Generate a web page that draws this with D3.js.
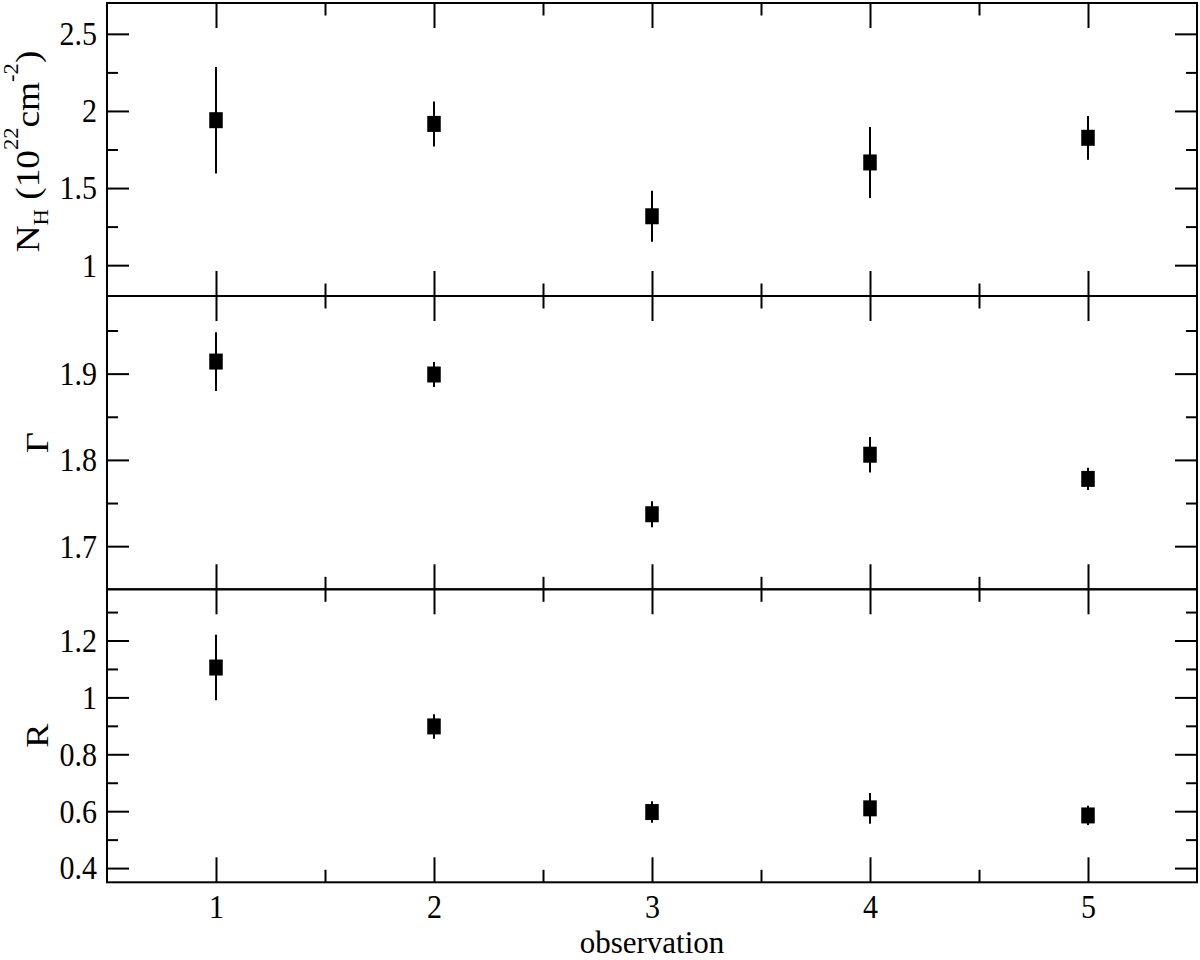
<!DOCTYPE html>
<html>
<head>
<meta charset="utf-8">
<script src="https://cdn.jsdelivr.net/npm/d3@7"></script>
<style>
body { margin: 0; background: #fff; }
svg text { font-family: "Liberation Serif", "Times New Roman", Times, Tinos, "DejaVu Serif", serif; fill: #000; }
</style>
</head>
<body>
<svg id="canvas"></svg>
<script>
// observation numbers
let observations = [1, 2, 3, 4, 5];
let xTicks = [1, 2, 3, 4, 5];
let xMinor = [1.5, 2.5, 3.5, 4.5];

// N_H (10^22 cm^-2)
let nhValues = [1.94, 1.916, 1.317, 1.666, 1.826];
let nhErrors = [0.345, 0.146, 0.165, 0.23, 0.142];
let nhTicks = [1, 1.5, 2, 2.5];
let nhMinor = [1.25, 1.75, 2.25];

// photon index
let gammaValues = [1.914, 1.899, 1.737, 1.806, 1.778];
let gammaErrors = [0.034, 0.0145, 0.015, 0.0205, 0.013];
let gammaTicks = [1.7, 1.8, 1.9];
let gammaMinor = [1.75, 1.85, 1.95];

// reflection
let rValues = [1.105, 0.898, 0.597, 0.61, 0.585];
let rErrors = [0.115, 0.043, 0.038, 0.054, 0.034];
let rTicks = [0.4, 0.6, 0.8, 1, 1.2];
let rMinor = [0.5, 0.7, 0.9, 1.1, 1.3];

let width = 1200;
let height = 960;
let left = 107;
let right = 1197;
let stretch = 1.13;
let serif = '"Liberation Serif", "Times New Roman", Times, Tinos, "DejaVu Serif", serif';

let canvas = d3.select('#canvas');
canvas.attr('width', width);
canvas.attr('height', height);

let panels = [
    {values: nhValues, errors: nhErrors, domain: [0.8, 2.7], ticks: nhTicks, minor: nhMinor, top: 3, bottom: 296},
    {values: gammaValues, errors: gammaErrors, domain: [1.65, 1.99], ticks: gammaTicks, minor: gammaMinor, top: 296, bottom: 589.3},
    {values: rValues, errors: rErrors, domain: [0.35, 1.38], ticks: rTicks, minor: rMinor, top: 589.3, bottom: 882.3}
];

let xScale = d3.scaleLinear()
    .domain([0.5, 5.5])
    .range([left, right]);

let styleAxis = (g) => {
    g.select('.domain').remove();
    g.attr('color', '#000')
        .attr('font-family', serif)
        .attr('font-size', 30);
    g.selectAll('line').attr('stroke-width', 2);
    g.selectAll('text')
        .style('font-family', serif)
        .attr('transform', 'scale(1,' + stretch + ')');
}

let drawAxes = (p, yScale, isLast) => {
    // major + minor ticks on all four sides, pointing inward
    let sides = [
        [d3.axisTop, xScale, 'translate(0,' + p.top + ')', 25, xTicks, xMinor],
        [d3.axisBottom, xScale, 'translate(0,' + p.bottom + ')', 25, xTicks, xMinor],
        [d3.axisLeft, yScale, 'translate(' + left + ',0)', 22, p.ticks, p.minor],
        [d3.axisRight, yScale, 'translate(' + right + ',0)', 22, p.ticks, p.minor]
    ];
    sides.forEach(([makeAxis, scale, tr, len, major, minor], i) => {
        let showLabels = i === 2 || (i === 1 && isLast);
        let axis = makeAxis(scale)
            .tickValues(major)
            .tickSize(-len)
            .tickPadding(10)
            .tickFormat(showLabels ? (d) => String(d) : '');
        canvas.append('g')
            .attr('transform', tr)
            .call(axis)
            .call(styleAxis);

        let minorAxis = makeAxis(scale)
            .tickValues(minor)
            .tickSize(-len / 2)
            .tickFormat('');
        canvas.append('g')
            .attr('transform', tr)
            .call(minorAxis)
            .call(styleAxis);
    });
}

let drawPanel = (p, i) => {
    let yScale = d3.scaleLinear()
        .domain(p.domain)
        .range([p.bottom, p.top]);

    canvas.append('rect')
        .attr('x', left)
        .attr('y', p.top)
        .attr('width', right - left)
        .attr('height', p.bottom - p.top)
        .attr('fill', 'none')
        .attr('stroke', '#000')
        .attr('stroke-width', 2);

    drawAxes(p, yScale, i === panels.length - 1);

    let g = canvas.append('g');
    g.selectAll('line.err')
        .data(observations)
        .enter()
        .append('line')
        .attr('class', 'err')
        .attr('x1', (d) => xScale(d))
        .attr('x2', (d) => xScale(d))
        .attr('y1', (d, j) => yScale(p.values[j] - p.errors[j]))
        .attr('y2', (d, j) => yScale(p.values[j] + p.errors[j]))
        .attr('stroke', '#000')
        .attr('stroke-width', 2);

    g.selectAll('rect.pt')
        .data(observations)
        .enter()
        .append('rect')
        .attr('class', 'pt')
        .attr('x', (d) => xScale(d) - 6.75)
        .attr('y', (d, j) => yScale(p.values[j]) - 8)
        .attr('width', 13.5)
        .attr('height', 16)
        .attr('fill', '#000');
}

panels.forEach(drawPanel);

// y axis titles
let nhLabel = canvas.append('text')
    .attr('text-anchor', 'middle')
    .attr('font-size', 33)
    .style('font-family', serif)
    .attr('transform', 'translate(39,151.5) rotate(-90) scale(' + stretch + ',1)');
nhLabel.append('tspan').text('N');
nhLabel.append('tspan').attr('font-size', 20).attr('dy', 9).text('H');
nhLabel.append('tspan').attr('dy', -9).text('\u00a0(10');
nhLabel.append('tspan').attr('font-size', 20).attr('dy', -21).text('22');
nhLabel.append('tspan').attr('dy', 21).text('cm');
nhLabel.append('tspan').attr('font-size', 20).attr('dy', -21).text('-2');
nhLabel.append('tspan').attr('dy', 21).text(')');

canvas.append('text')
    .attr('text-anchor', 'middle')
    .attr('font-size', 32)
    .style('font-family', serif)
    .attr('transform', 'translate(48,442.6) rotate(-90) scale(' + stretch + ',1)')
    .text('\u0393');

canvas.append('text')
    .attr('text-anchor', 'middle')
    .attr('font-size', 32)
    .style('font-family', serif)
    .attr('transform', 'translate(48,735.8) rotate(-90) scale(' + stretch + ',1)')
    .text('R');

canvas.append('text')
    .attr('text-anchor', 'middle')
    .attr('font-size', 31)
    .style('font-family', serif)
    .attr('x', 652)
    .attr('y', 953)
    .text('observation');
</script>
</body>
</html>
